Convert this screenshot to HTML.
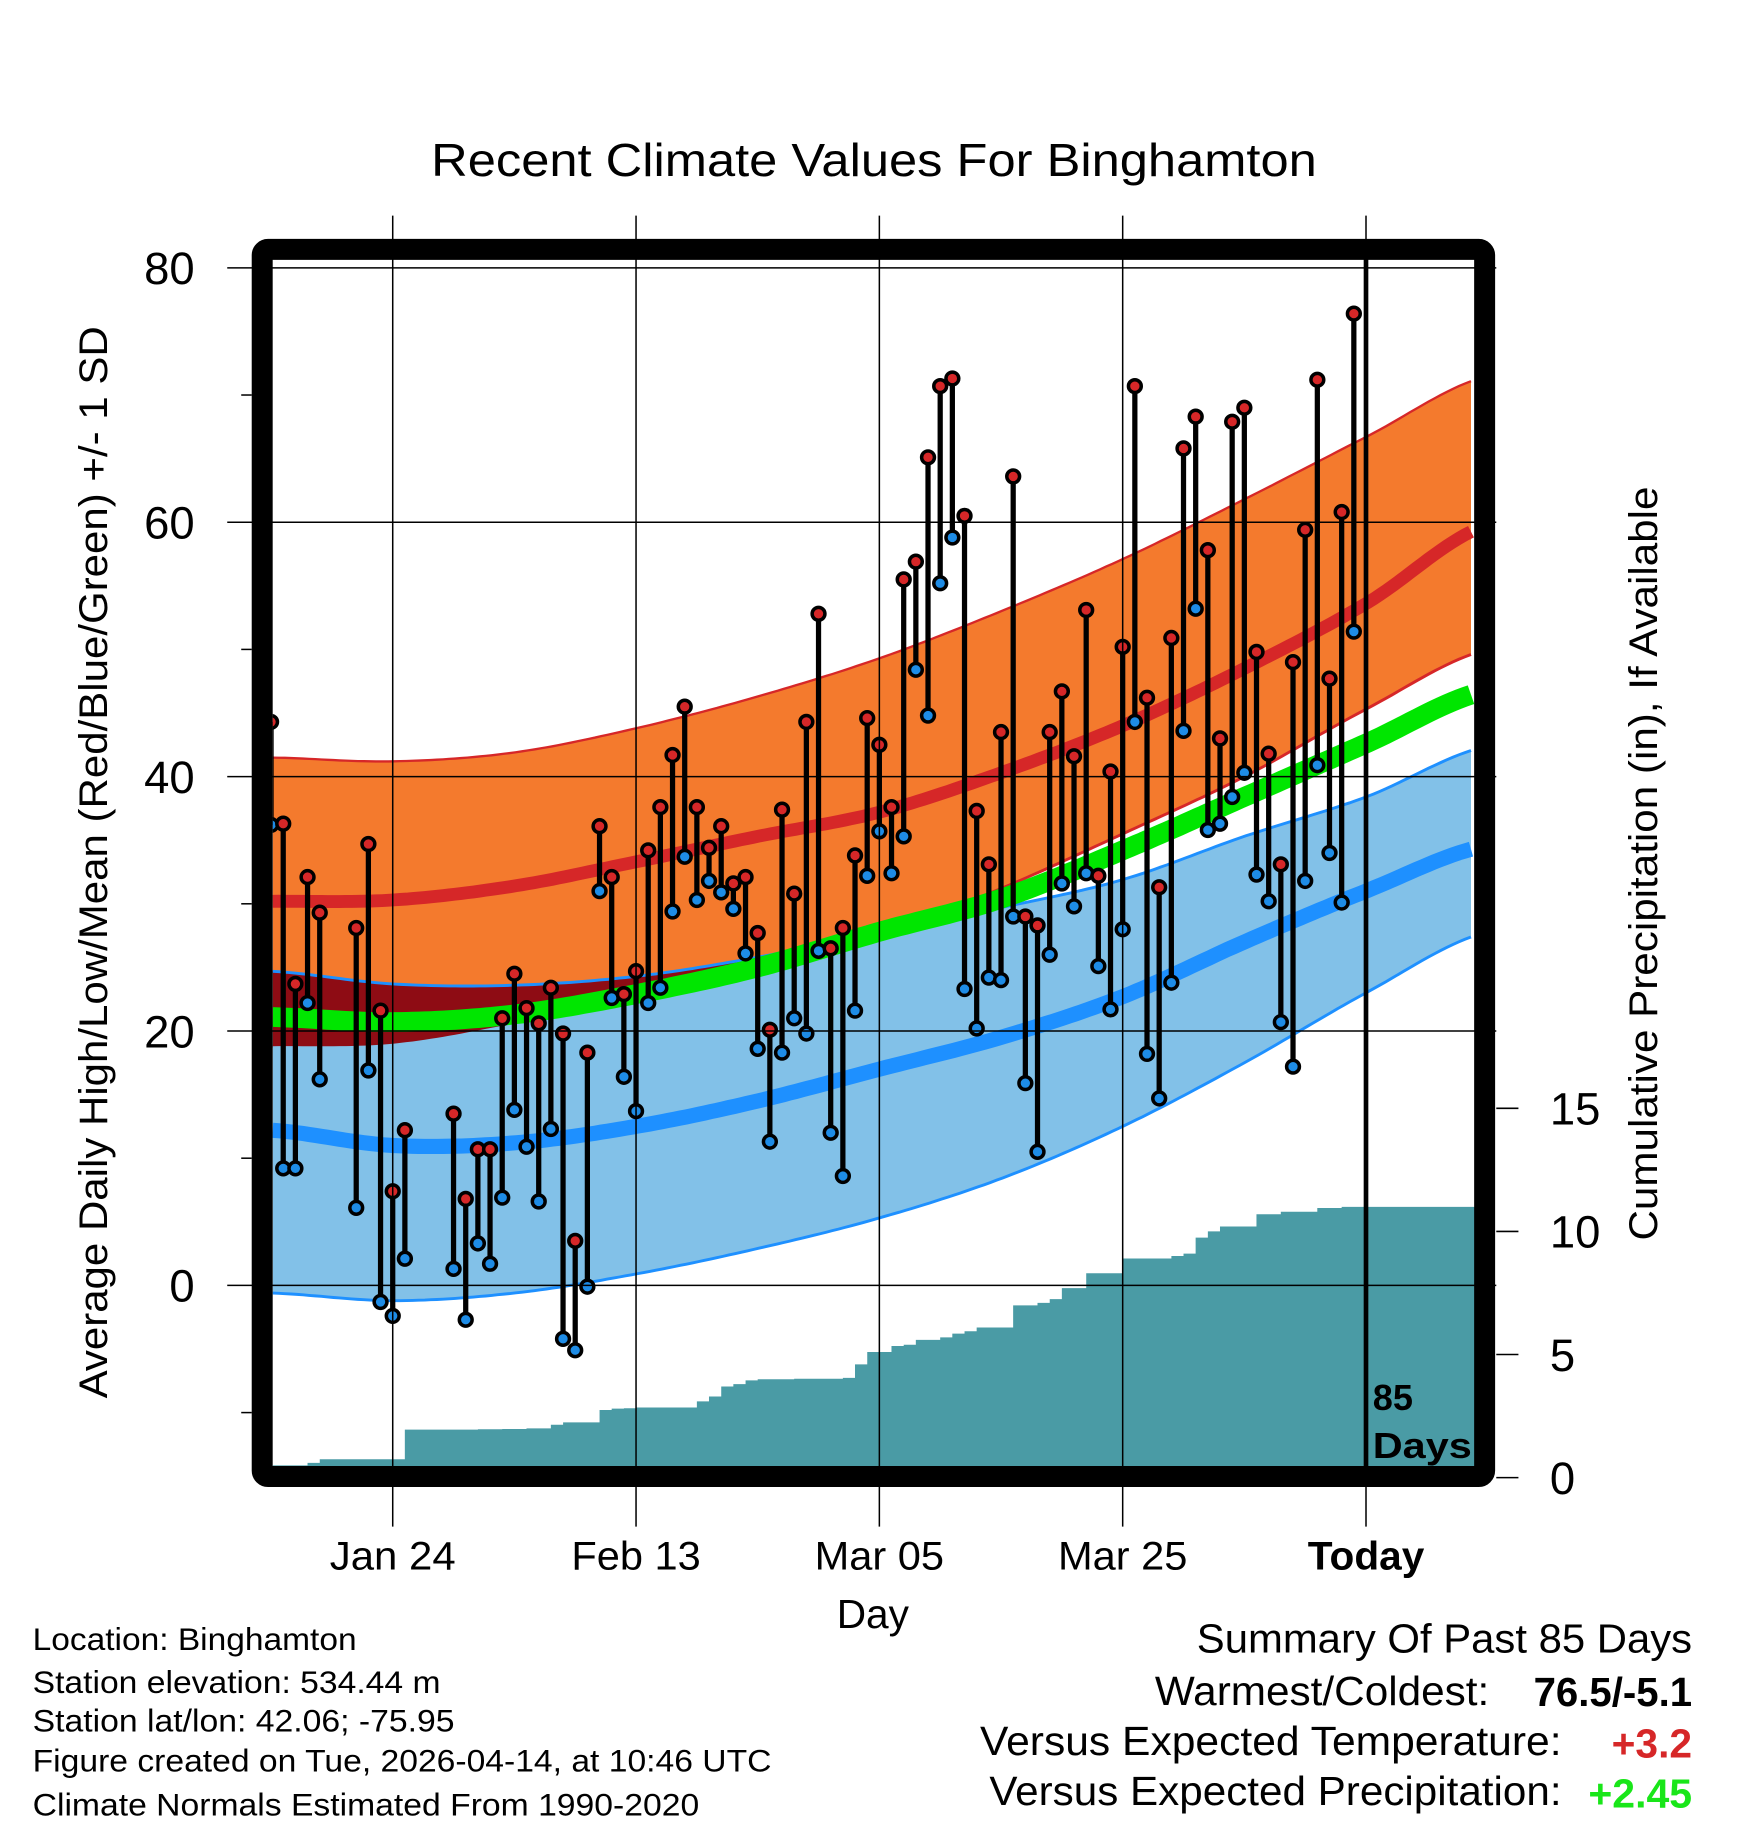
<!DOCTYPE html>
<html><head><meta charset="utf-8"><style>
html,body{margin:0;padding:0;background:#fff;}
svg{display:block;font-family:"Liberation Sans",Arial,sans-serif;}
</style></head><body>
<svg id="chart" width="1748" height="1828" viewBox="0 0 1500 1568.6" xmlns="http://www.w3.org/2000/svg">
<text x="750" y="151" font-size="40" text-anchor="middle" textLength="760" lengthAdjust="spacingAndGlyphs">Recent Climate Values For Binghamton</text>
<g id="plot"></g>
<text transform="translate(92,740) rotate(-90)" font-size="34" text-anchor="middle" textLength="920" lengthAdjust="spacingAndGlyphs">Average Daily High/Low/Mean (Red/Blue/Green) +/- 1 SD</text>
<text transform="translate(1422,741) rotate(-90)" font-size="34" text-anchor="middle" textLength="647" lengthAdjust="spacingAndGlyphs">Cumulative Precipitation (in), If Available</text>
<text x="749" y="1397" font-size="35" text-anchor="middle" textLength="62" lengthAdjust="spacingAndGlyphs">Day</text>
<g font-size="27">
<text x="28" y="1416" textLength="278" lengthAdjust="spacingAndGlyphs">Location: Binghamton</text>
<text x="28" y="1453" textLength="350" lengthAdjust="spacingAndGlyphs">Station elevation: 534.44 m</text>
<text x="28" y="1486" textLength="362" lengthAdjust="spacingAndGlyphs">Station lat/lon: 42.06; -75.95</text>
<text x="28" y="1520" textLength="634" lengthAdjust="spacingAndGlyphs">Figure created on Tue, 2026-04-14, at 10:46 UTC</text>
<text x="28" y="1558" textLength="572" lengthAdjust="spacingAndGlyphs">Climate Normals Estimated From 1990-2020</text>
</g>
<g font-size="35">
<text x="1027" y="1418" textLength="425" lengthAdjust="spacingAndGlyphs">Summary Of Past 85 Days</text>
<text x="991" y="1463" textLength="287" lengthAdjust="spacingAndGlyphs">Warmest/Coldest:</text>
<text x="1316" y="1464" font-weight="bold" textLength="136" lengthAdjust="spacingAndGlyphs">76.5/-5.1</text>
<text x="841" y="1506" textLength="499" lengthAdjust="spacingAndGlyphs">Versus Expected Temperature:</text>
<text x="1383" y="1508" font-weight="bold" fill="#d62728" textLength="69" lengthAdjust="spacingAndGlyphs">+3.2</text>
<text x="849" y="1549" textLength="491" lengthAdjust="spacingAndGlyphs">Versus Expected Precipitation:</text>
<text x="1363" y="1551" font-weight="bold" fill="#19e619" textLength="89" lengthAdjust="spacingAndGlyphs">+2.45</text>
</g>
</svg>
<script>
// ---- data ----
const highs = [44.3,36.3,23.7,32.1,29.3,null,null,28.1,34.7,21.6,7.4,12.2,null,null,null,13.5,6.8,10.7,10.7,21.0,24.5,21.8,20.6,23.4,19.8,3.5,18.3,36.1,32.1,22.9,24.7,34.2,37.6,41.7,45.5,37.6,34.4,36.1,31.6,32.1,27.7,20.1,37.4,30.8,44.3,52.8,26.5,28.1,33.8,44.6,42.5,37.6,55.5,56.9,65.1,70.7,71.3,60.5,37.3,33.1,43.5,63.6,29.0,28.3,43.5,46.7,41.6,53.1,32.2,40.4,50.2,70.7,46.2,31.3,50.9,65.8,68.3,57.8,43.0,67.9,69.0,49.8,41.8,33.1,49.0,59.4,71.2,47.7,60.8,76.4];
const lows = [36.2,9.2,9.2,22.2,16.2,null,null,6.1,16.9,-1.3,-2.4,2.1,null,null,null,1.3,-2.7,3.3,1.7,6.9,13.8,10.9,6.6,12.3,-4.2,-5.1,-0.1,31.0,22.6,16.4,13.7,22.2,23.4,29.4,33.7,30.3,31.8,30.9,29.6,26.1,18.6,11.3,18.3,21.0,19.8,26.3,12.0,8.6,21.6,32.2,35.7,32.4,35.3,48.4,44.8,55.2,58.8,23.3,20.2,24.2,24.0,29.0,15.9,10.5,26.0,31.6,29.8,32.4,25.1,21.7,28.0,44.3,18.2,14.7,23.8,43.6,53.2,35.8,36.3,38.4,40.3,32.3,30.2,20.7,17.2,31.8,40.9,34.0,30.1,51.4];
const precip = [0.5,0.5,0.5,0.6,0.75,0.75,0.75,0.75,0.75,0.75,0.75,1.95,1.95,1.95,1.95,1.95,1.95,1.97,1.97,1.98,1.98,2.0,2.0,2.15,2.25,2.25,2.25,2.75,2.8,2.82,2.85,2.85,2.85,2.85,2.85,3.1,3.3,3.7,3.8,3.95,4.0,4.0,4.0,4.02,4.02,4.02,4.02,4.05,4.6,5.1,5.1,5.35,5.4,5.6,5.6,5.7,5.85,5.95,6.1,6.1,6.1,7.0,7.0,7.1,7.25,7.7,7.7,8.3,8.3,8.3,8.9,8.9,8.9,8.9,9.0,9.1,9.75,10.0,10.2,10.2,10.2,10.7,10.7,10.8,10.8,10.8,10.95,10.95,11.0,11.0];
const normDays = [-10,0,10,20,30,40,50,60,70,80,90];
const highUpper = [41.5,41.2,41.9,43.8,46.3,49.3,53.0,57.1,61.8,66.7,71.5];
const highMean  = [30.2,30.3,31.4,33.3,35.3,37.2,40.3,44.0,48.5,53.6,59.8];
const highLower = [18.8,19.0,20.6,22.6,24.8,27.5,31.2,35.5,40.0,45.3,50.0];
const avgMean   = [21.1,20.7,21.3,22.9,25.0,27.8,30.4,34.2,38.4,42.6,46.8];
const lowUpper  = [24.7,23.7,23.6,24.3,25.8,27.8,29.7,31.9,35.3,38.4,42.4];
const lowMean   = [12.2,11.0,11.2,12.5,14.5,17.0,19.5,22.7,27.0,31.0,34.6];
const lowLower  = [-0.6,-1.2,-0.6,0.9,2.9,5.3,8.4,12.5,17.5,23.0,27.8];
const xTickDays = [0,20,40,60,80];
const xTickLabels = ["Jan 24","Feb 13","Mar 05","Mar 25","Today"];
const xTickWidths = [108,111,111,111,100];
const yTicks = [80,60,40,20,0];
const yMinor = [70,50,30,10,-10];
const pTicks = [0,5,10,15];
const firstDay = -10;

// ---- scales ----
const X0=234, X1=1266, Y0=223, Y1=1258;
const xs = d => 337 + d*10.44;
const ys = v => 1103 - v*10.915;
const yp = p => 1268 - p*21.13;
const NS="http://www.w3.org/2000/svg";
const plot=document.getElementById('plot');
function mk(tag,attrs,parent){const e=document.createElementNS(NS,tag);for(const k in attrs)e.setAttribute(k,attrs[k]);(parent||plot).appendChild(e);return e;}
function spl(arr,d){
  let t=(d-normDays[0])/10; let i=Math.floor(t); if(i<0)i=0; if(i>arr.length-2)i=arr.length-2; const u=t-i;
  const p0=arr[Math.max(i-1,0)],p1=arr[i],p2=arr[i+1],p3=arr[Math.min(i+2,arr.length-1)];
  return 0.5*((2*p1)+(-p0+p2)*u+(2*p0-5*p1+4*p2-p3)*u*u+(-p0+3*p1-3*p2+p3)*u*u*u);
}
const dStart=(X0-337)/10.44, dEnd=(X1-337)/10.44;
function samples(){const a=[];for(let d=dStart;d<=dEnd+0.001;d+=0.5)a.push(d);return a;}
function line(fn){return samples().map((d,i)=>(i?'L':'M')+xs(d).toFixed(1)+' '+fn(d).toFixed(1)).join(' ');}
function band(fTop,fBot){const s=samples();let p=s.map((d,i)=>(i?'L':'M')+xs(d).toFixed(1)+' '+fTop(d).toFixed(1)).join(' ');p+=' '+s.slice().reverse().map(d=>'L'+xs(d).toFixed(1)+' '+fBot(d).toFixed(1)).join(' ')+'Z';return p;}

const defs=mk('defs',{});
const cp=mk('clipPath',{id:'clip'},defs); mk('rect',{x:X0,y:Y0,width:X1-X0,height:Y1-Y0},cp);
const g=mk('g',{'clip-path':'url(#clip)'});

let e=mk('path',{d:band(d=>ys(spl(highUpper,d)),d=>ys(spl(highLower,d))),fill:'#f47a2d'},g);


e=mk('path',{d:line(d=>ys(spl(highUpper,d))),fill:'none',stroke:'#d62728','stroke-width':2},g);


e=mk('path',{d:line(d=>ys(spl(highLower,d))),fill:'none',stroke:'#d62728','stroke-width':2.5},g);


e=mk('path',{d:band(d=>ys(spl(lowUpper,d)),d=>ys(spl(lowLower,d))),fill:'#82c1e8'},g);


e=mk('path',{d:band(d=>ys(spl(lowUpper,d)),d=>ys(Math.min(spl(highLower,d),spl(lowUpper,d)))),fill:'#8e0c14'},g);


e=mk('path',{d:line(d=>ys(spl(lowUpper,d))),fill:'none',stroke:'#1e90ff','stroke-width':2.5},g);


e=mk('path',{d:line(d=>ys(spl(lowLower,d))),fill:'none',stroke:'#1e90ff','stroke-width':2.5},g);


e=mk('path',{d:line(d=>ys(spl(highMean,d))),fill:'none',stroke:'#d62728','stroke-width':11},g);


e=mk('path',{d:line(d=>ys(spl(lowMean,d))),fill:'none',stroke:'#1e90ff','stroke-width':13},g);


e=mk('path',{d:line(d=>ys(spl(avgMean,d))),fill:'none',stroke:'#00e600','stroke-width':17},g);



let pd='M'+X0+' '+Y1;
precip.forEach((p,i)=>{const xa=Math.max(X0,xs(firstDay+i)),xb=(i===precip.length-1)?X1:xs(firstDay+i+1);pd+=' L'+xa.toFixed(1)+' '+yp(p).toFixed(1)+' L'+xb.toFixed(1)+' '+yp(p).toFixed(1);});
pd+=' L'+X1+' '+Y1+'Z';
e=mk('path',{d:pd,fill:'#4a9ba5'},g);



yTicks.forEach(v=>{
  e=mk('line',{x1:195,x2:1284,y1:ys(v),y2:ys(v),stroke:'#000','stroke-width':1.3});
  
  
  e=mk('text',{x:167,y:ys(v)+14,'font-size':39,'text-anchor':'end'}); e.textContent=v;
  
  
});
yMinor.forEach(v=>{
  e=mk('line',{x1:207,x2:216,y1:ys(v),y2:ys(v),stroke:'#000','stroke-width':1.3});
  
  
});
xTickDays.forEach((d,i)=>{
  e=mk('line',{x1:xs(d),x2:xs(d),y1:185,y2:Y1,stroke:'#000','stroke-width':1.3});
  
  
  e=mk('line',{x1:xs(d),x2:xs(d),y1:1276,y2:1310,stroke:'#000','stroke-width':1.3});
  
  
  e=mk('text',{x:xs(d),y:1347,'font-size':34,'text-anchor':'middle',textLength:xTickWidths[i],lengthAdjust:'spacingAndGlyphs'}); e.textContent=xTickLabels[i];
  if(i===4)e.setAttribute('font-weight','bold');
  
  
});
pTicks.forEach(p=>{
  e=mk('line',{x1:1284,x2:1303,y1:yp(p),y2:yp(p),stroke:'#000','stroke-width':1.3});
  
  
  e=mk('text',{x:1330,y:yp(p)+14,'font-size':39}); e.textContent=p;
  
  
});

highs.forEach((h,i)=>{
  const l=lows[i]; if(h==null||l==null)return; const x=xs(firstDay+i);
  e=mk('line',{x1:x,x2:x,y1:ys(h),y2:ys(l),stroke:'#000','stroke-width':4.5},g);
  
  
});
highs.forEach((h,i)=>{
  const l=lows[i]; if(h==null||l==null)return; const x=xs(firstDay+i);
  e=mk('circle',{cx:x,cy:ys(l),r:5.5,fill:'#1e8ce6',stroke:'#000','stroke-width':3},g);
  
  
  e=mk('circle',{cx:x,cy:ys(h),r:5.5,fill:'#d62728',stroke:'#000','stroke-width':3},g);
  
  
});

e=mk('line',{x1:xs(80),x2:xs(80),y1:208,y2:Y1,stroke:'#000','stroke-width':4});


e=mk('text',{x:1178,y:1210,'font-size':31,'font-weight':'bold'}); e.textContent='85';


e=mk('text',{x:1178,y:1251,'font-size':31,'font-weight':'bold',textLength:85,lengthAdjust:'spacingAndGlyphs'}); e.textContent='Days';



e=mk('rect',{x:225,y:214,width:1049,height:1053,rx:5,fill:'none',stroke:'#000','stroke-width':18});


</script>
</body></html>
